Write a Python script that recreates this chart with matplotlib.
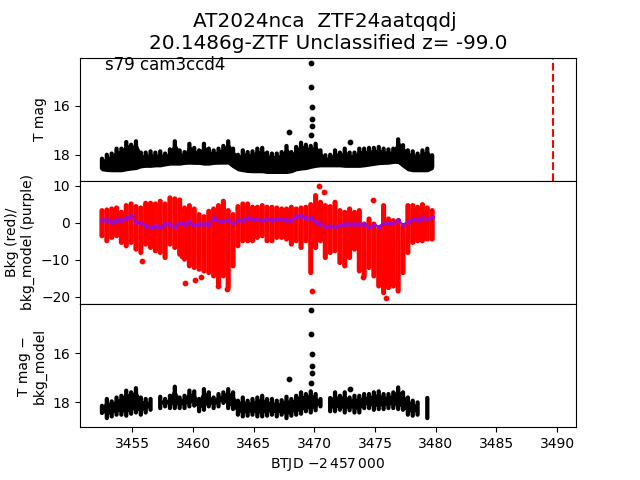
import matplotlib
matplotlib.use("Agg")
import matplotlib.pyplot as plt
import numpy as np

btjd = [3452.5,3452.9,3453.3,3453.7,3454.1,3454.5,3454.9,3455.3,3455.7,3456.1,3456.5,3456.9,3457.3,3457.7,3458.1,3458.5,3458.9,3459.3,3459.7,3460.1,
        3460.5,3460.9,3461.3,3461.7,3462.1,3462.5,3462.9,3463.3,3463.7,3464.1,3464.5,3464.9,3465.3,3465.7,3466.1,3466.5,3466.9,3467.3,3467.7,3468.1,
        3468.5,3468.9,3469.3,3469.7,3470.1,3470.5,3470.9,3471.3,3471.7,3472.1,3472.5,3472.9,3473.3,3473.7,3474.1,3474.5,3474.9,3475.3,3475.7,3476.1,
        3476.5,3476.9,3477.3,3477.7,3478.1,3478.5,3478.9,3479.3,3479.7]

tmag_bright = [18.16,18.00,17.95,17.75,17.75,17.48,17.59,17.45,17.91,17.91,17.86,17.91,17.86,17.95,17.78,17.45,17.82,17.89,17.55,17.72,
               17.82,17.55,17.75,17.82,17.75,17.64,17.45,17.75,18.00,17.82,17.89,17.86,17.75,17.72,17.91,17.95,17.95,17.89,17.64,17.89,
               17.68,17.51,17.59,17.64,17.55,17.82,18.02,18.00,17.82,17.91,17.75,17.91,17.91,17.75,17.75,17.72,17.72,17.68,17.75,17.78,
               17.75,17.37,17.61,17.82,17.86,17.95,17.82,17.75,18.02]
tmag_faint = [18.55,18.58,18.59,18.59,18.59,18.55,18.52,18.50,18.43,18.41,18.41,18.39,18.39,18.35,18.32,18.32,18.32,18.29,18.28,18.29,
              18.29,18.32,18.32,18.29,18.28,18.28,18.28,18.43,18.55,18.59,18.62,18.63,18.63,18.63,18.66,18.66,18.66,18.66,18.66,18.63,
              18.55,18.52,18.50,18.45,18.41,18.39,18.39,18.39,18.39,18.39,18.41,18.41,18.41,18.41,18.39,18.36,18.33,18.30,18.29,18.28,
              18.25,18.25,18.41,18.55,18.59,18.59,18.59,18.59,18.50]

outlier_t = [3469.74,3469.74,3469.83,3469.83,3469.80,3469.74,3467.91,3472.93]
outlier_mag = [14.26,15.24,16.05,16.54,16.83,17.20,17.06,17.46]

bkg_high = [3.32,3.50,3.77,4.04,2.86,4.68,5.13,4.41,4.04,5.32,5.32,5.13,5.86,5.13,6.77,6.50,6.22,4.04,4.68,3.77,
            2.23,1.68,3.14,3.77,4.68,5.86,3.32,2.23,4.41,5.13,5.13,4.23,4.23,4.68,4.23,4.23,4.04,
            3.77,3.77,4.23,3.77,4.04,4.23,4.95,7.40,5.59,4.68,4.41,5.59,3.32,2.86,3.77,2.86,3.32,-0.32,1.05,-0.32,
            -1.68,4.68,1.05,0.59,0.59,-1.22,4.68,4.68,4.23,4.95,4.04,3.32]
bkg_low = [-3.50,-4.86,-3.95,-3.50,-5.31,-6.22,-5.31,-7.13,-8.04,-5.77,-6.68,-7.58,-8.04,-9.40,-5.77,-6.68,-8.49,-9.85,-11.67,-12.12,
           -12.58,-13.03,-13.49,-14.40,-16.67,-14.40,-17.57,-11.67,-6.22,-4.86,-4.86,-4.86,-3.95,-3.50,-4.86,-4.86,-3.95,
           -3.95,-4.40,-5.77,-4.86,-6.68,-4.86,-13.49,-6.68,-4.86,-9.40,-8.04,-7.58,-10.76,-11.67,-9.40,-7.13,-13.03,-14.40,-12.12,-14.40,
           -17.12,-18.94,-17.57,-17.12,-18.48,-13.49,-8.04,-5.31,-4.86,-4.86,-4.40,-4.40]
bkg_outlier_t = [3469.78,3470.40,3470.81,3474.85,3475.90,3473.98,3459.36,3460.19,3460.68,3455.82,3459.07,3462.82,3462.08]
bkg_outlier = [-18.5,9.89,8.37,6.19,-20.5,-14.6,-16.4,-15.6,-14.8,-10.35,-9.0,-17.8,-17.1]

bkg_model = [0.82,0.82,0.36,0.82,0.64,1.27,1.73,0.36,-0.09,-0.73,-1.0,-0.73,-1.0,-0.27,-0.27,-1.0,0.09,-0.36,0.18,-0.54,
             -0.18,-0.27,-0.27,1.27,0.55,0.55,0.82,-0.09,0.82,0.82,1.27,1.0,0.91,0.64,1.0,0.82,0.91,
             0.91,0.64,0.64,1.73,1.73,1.45,1.27,0.36,-0.27,-1.0,-0.73,-1.18,-0.54,-0.27,-0.36,-0.36,-0.36,-0.36,-1.18,-0.54,
             -1.0,-0.09,0.09,0.09,0.82,-0.54,0.36,1.0,0.82,1.45,1.0,1.54]

nan = float("nan")
sub_bright = [18.15,17.87,17.97,17.81,17.74,17.53,17.60,17.43,17.81,17.87,17.87,nan,17.78,17.87,17.74,17.37,17.81,17.74,17.53,17.56,
              17.87,17.47,17.60,17.81,17.67,17.60,17.47,17.60,17.94,17.81,17.94,17.87,17.81,17.74,17.87,
              17.87,17.94,17.92,17.78,17.87,17.74,17.60,17.67,17.56,17.67,17.87,nan,17.83,17.60,17.74,17.60,17.81,17.74,17.74,17.67,
              17.67,17.60,17.56,17.67,17.67,17.60,17.40,17.60,17.81,17.94,18.01,nan,17.83,nan]
sub_faint = [18.44,18.65,18.58,18.51,18.51,18.55,18.47,18.42,18.51,18.42,18.31,nan,18.24,18.17,18.24,18.24,18.24,18.24,18.17,18.14,
             18.37,18.31,18.17,18.24,18.17,18.03,18.24,18.28,18.51,18.58,18.55,18.51,18.58,18.58,18.55,
             18.51,18.58,18.51,18.65,18.55,18.51,18.47,18.37,18.42,18.33,18.17,nan,18.37,18.37,18.31,18.42,18.33,18.42,18.42,18.24,
             18.24,18.31,18.28,18.28,18.24,18.24,18.28,18.31,18.51,18.55,18.51,nan,18.65,nan]

peak_date = 3489.65
title_text = "AT2024nca  ZTF24aatqqdj \n20.1486g-ZTF Unclassified z= -99.0"
sector_text = "s79 cam3ccd4"

fig, (ax1, ax2, ax3) = plt.subplots(3, 1, sharex=True, figsize=(6.4, 4.8), dpi=100)
fig.subplots_adjust(top=0.88, hspace=0)

t = np.array(btjd)
b1, f1 = np.array(tmag_bright), np.array(tmag_faint)
b3, f3 = np.array(sub_bright), np.array(sub_faint)

c1 = ax1.vlines(t, b1, f1, colors="k", linewidth=3.1, capstyle="round")
c1.set_snap(False)
ax1.fill_between(t, b1 + 0.12, f1 + 0.06, color="k", linewidth=1.5)
ax1.plot(outlier_t, outlier_mag, "k.", markersize=6.3)
ax1.axvline(peak_date, color="r", linestyle="--", linewidth=1.5)
ax1.set_ylim(19.06, 14.04)
ax1.set_yticks([16, 18])
ax1.set_ylabel("T mag")
ax1.text(3452.75, 14.53, sector_text, fontsize=12, va="baseline")
ax1.set_title(title_text, fontsize=14.4)

c2 = ax2.vlines(t, bkg_low, bkg_high, colors="r", linewidth=3.7, capstyle="round")
c2.set_snap(False)
ax2.plot(bkg_outlier_t, bkg_outlier, "r.", markersize=6.3)
ax2.plot(t, bkg_model, color="#a00bc8", linewidth=1.5, marker="o", markersize=2.6)
ax2.set_ylim(-22, 11.4)
ax2.set_yticks([10, 0, -10, -20])
ax2.set_ylabel("Bkg (red)/\nbkg_model (purple)")

c3 = ax3.vlines(t, b3, f3, colors="k", linewidth=3.1, capstyle="round")
c3.set_snap(False)
ax3.fill_between(t, b3 + 0.15, f3 - 0.15, where=~np.isnan(b3), color="k", linewidth=1.5)
ax3.plot(outlier_t, outlier_mag, "k.", markersize=6.3)
ax3.set_ylim(19.02, 14.0)
ax3.set_yticks([16, 18])
ax3.set_ylabel("T mag \u2212\nbkg_model")
ax3.set_xlim(3450.69, 3491.55)
ax3.set_xticks([3455, 3460, 3465, 3470, 3475, 3480, 3485, 3490])
ax3.set_xlabel(r"BTJD $-2\,457\,000$")

for ax in (ax1, ax2):
    ax.tick_params(axis="x", bottom=False)

fig.savefig("out.png", dpi=100)
